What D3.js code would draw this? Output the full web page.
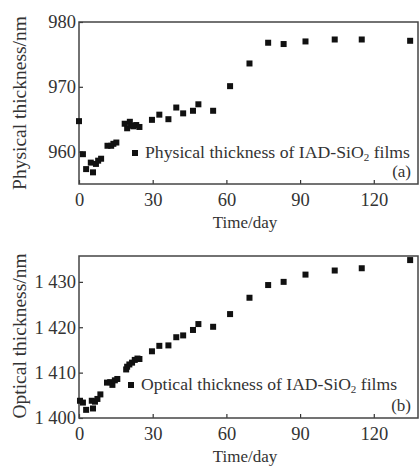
<!DOCTYPE html>
<html>
<head>
<meta charset="utf-8">
<script src="https://cdn.jsdelivr.net/npm/d3@7"></script>
<style>
  body { margin: 0; background: #fff; }
  svg text { font-family: "Liberation Serif", "Times New Roman", serif; fill: #333; }
</style>
</head>
<body>
<script>
//values
var physDays = [0, 1.6, 2.9, 4.8, 5.7, 6.9, 7.8, 9, 11.6, 13.1, 14, 15.2, 18.6, 19.6, 20.7, 21.2, 22.2, 23.3, 24.6,
    29.7, 32.7, 36.4, 39.6, 42.4, 46.4, 48.6, 54.6, 61.5, 69.4, 77, 83.3, 92.2, 104.1, 115.1, 134.8];
var physical = [964.7, 959.6, 957.3, 958.3, 956.8, 958.1, 958.6, 958.9, 960.9, 960.9, 961.2, 961.4, 964.3, 963.6, 964.6, 964.0, 963.9, 964.1, 963.8,
    964.9, 965.7, 965.0, 966.8, 965.9, 966.3, 967.3, 966.3, 970.1, 973.6, 976.8, 976.6, 977.0, 977.3, 977.3, 977.1];

var optDays = [0.4, 1.6, 2.9, 5.2, 5.7, 6.5, 7.5, 8.7, 11.4, 12.7, 13.6, 14.6, 15.6, 19.2, 19.6, 20.5, 21.6, 22.7, 23.8, 24.6,
    29.7, 32.7, 36.4, 39.6, 42.4, 46.4, 48.6, 54.6, 61.5, 69.4, 77, 83.3, 92.2, 104.1, 115.1, 134.8];
var optical = [1403.8, 1403.4, 1401.8, 1403.8, 1402.1, 1403.6, 1404.2, 1405.2, 1407.8, 1407.9, 1407.3, 1408.3, 1408.6, 1410.7, 1411.3, 1411.8, 1412.2, 1412.8, 1413.1, 1413.0,
    1414.7, 1415.9, 1416.0, 1417.8, 1418.2, 1419.4, 1420.7, 1420.1, 1422.9, 1426.5, 1429.3, 1430.0, 1431.6, 1432.5, 1433.0, 1434.8];

var xTicks = [0, 30, 60, 90, 120];
var physTicks = [960, 970, 980];
var optTicks = [1400, 1410, 1420, 1430];

var width = 419,
    height = 468;

var svg = d3.select("body")
    .append("svg")
    .attr("width", width)
    .attr("height", height);

//space as thousands separator, like "1 430"
var spaced = d3.formatLocale({decimal: ".", thousands: " ", grouping: [3], currency: ["", ""]}).format(",d");

function panel(opt) {
    var x = d3.scaleLinear().domain([0, 138]).range([79, 418]);
    var y = d3.scaleLinear().domain(opt.yDomain).range([opt.bottom, opt.top]);
    var g = svg.append("g");

    //bottom axis, ticks pointing inward
    var xAxis = g.append("g")
        .attr("transform", "translate(0," + opt.bottom + ")")
        .call(d3.axisBottom(x).tickValues(xTicks).tickSize(-4).tickPadding(6).tickSizeOuter(0));
    xAxis.selectAll("text").attr("font-size", 18.5).attr("dy", "0.85em");

    var yAxis = g.append("g")
        .attr("transform", "translate(79,0)")
        .call(d3.axisLeft(y).tickValues(opt.yTicks).tickSize(-4).tickPadding(3).tickSizeOuter(0).tickFormat(opt.fmt));
    yAxis.selectAll("text").attr("font-size", 18.5);

    g.selectAll(".domain").remove();
    g.selectAll(".tick line").attr("stroke", "#333").attr("stroke-width", 1.2);
    g.selectAll("text").attr("fill", "#333");

    //frame
    g.append("rect")
        .attr("x", 79).attr("y", opt.top)
        .attr("width", 418 - 79).attr("height", opt.bottom - opt.top)
        .attr("fill", "none").attr("stroke", "#444").attr("stroke-width", 1.5);

    //points
    g.selectAll(".pt")
        .data(opt.days)
        .enter()
        .append("rect")
        .attr("class", "pt")
        .attr("x", function(d) { return x(d) - 3; })
        .attr("y", function(d, i) { return y(opt.values[i]) - 3; })
        .attr("width", 6).attr("height", 6)
        .attr("fill", "#111");

    //legend
    g.append("rect")
        .attr("x", opt.legX - 3).attr("y", opt.legY - 3)
        .attr("width", 6).attr("height", 6)
        .attr("fill", "#111");
    var leg = g.append("text")
        .attr("x", opt.legX + 10).attr("y", opt.legY + 5)
        .attr("font-size", 16)
        .attr("textLength", opt.legLen)
        .attr("lengthAdjust", "spacingAndGlyphs");
    leg.append("tspan").text(opt.legText + " of  IAD-SiO");
    leg.append("tspan").attr("font-size", 10).attr("dy", 3).text("2");
    leg.append("tspan").attr("dy", -3).text(" films");

    g.append("text")
        .attr("x", 411).attr("y", opt.bottom - 7)
        .attr("text-anchor", "end")
        .attr("font-size", 17)
        .text(opt.tag);

    //axis titles
    g.append("text")
        .attr("x", 245).attr("y", opt.bottom + 44)
        .attr("text-anchor", "middle")
        .attr("font-size", 17)
        .text("Time/day");

    g.append("text")
        .attr("transform", "translate(26," + opt.titleY + ") rotate(-90)")
        .attr("text-anchor", "middle")
        .attr("font-size", 19.5)
        .text(opt.yTitle);
}

panel({
    top: 22, bottom: 184,
    yDomain: [955, 980], yTicks: physTicks, fmt: d3.format("d"),
    days: physDays, values: physical,
    legX: 135, legY: 153, legLen: 265, legText: "Physical thickness", tag: "(a)",
    yTitle: "Physical thickness/nm", titleY: 103
});

panel({
    top: 256, bottom: 418,
    yDomain: [1400, 1435.7], yTicks: optTicks, fmt: spaced,
    days: optDays, values: optical,
    legX: 131, legY: 385, legLen: 256, legText: "Optical thickness", tag: "(b)",
    yTitle: "Optical thickness/nm", titleY: 336
});
</script>
</body>
</html>
